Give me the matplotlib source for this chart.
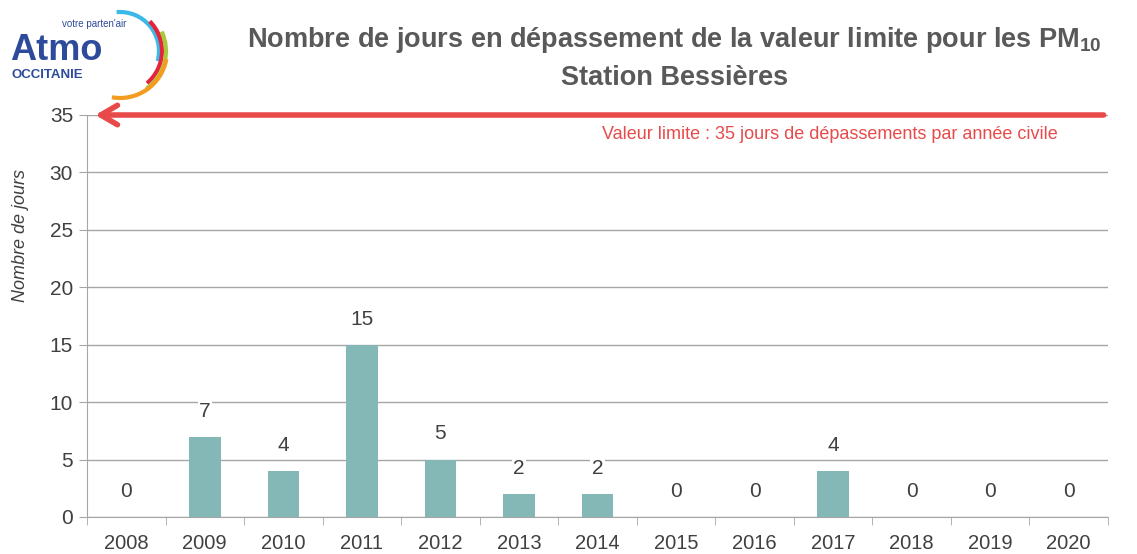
import matplotlib.pyplot as plt
from matplotlib.patches import Arc, FancyArrowPatch
import numpy as np

years = ['2008', '2009', '2010', '2011', '2012', '2013', '2014',
         '2015', '2016', '2017', '2018', '2019', '2020']
jours = [0, 7, 4, 15, 5, 2, 2, 0, 0, 4, 0, 0, 0]
valeur_limite = 35

plt.rcParams['font.family'] = ['Liberation Sans', 'DejaVu Sans']

grey = '#595959'
bar_color = '#84b8b7'
red = '#e84a4a'

fig = plt.figure(figsize=(11.37, 5.54), dpi=100)
ax = fig.add_axes([87 / 1137, 1 - 517 / 554, (1108 - 87) / 1137, (517 - 115) / 554])

x = np.arange(len(years))
ax.bar(x, jours, width=0.4, color=bar_color, zorder=3)
for xi, v in zip(x, jours):
    ax.text(xi, v + 1.4, str(v), ha='center', va='bottom', fontsize=15, color='#404040',
            zorder=5, bbox=dict(facecolor='white', edgecolor='none', pad=1))

ax.set_xlim(-0.5, len(years) - 0.5)
ax.set_ylim(0, 35)
ax.set_yticks(range(0, 36, 5))
ax.set_xticks(x)
ax.set_xticklabels(years)
ax.set_xticks(np.arange(-0.5, len(years), 1), minor=True)
ax.tick_params(axis='x', which='major', length=0, pad=12, labelsize=14.5, labelcolor='#404040')
ax.tick_params(axis='x', which='minor', length=6, color='#a6a6a6')
ax.tick_params(axis='y', length=6, color='#a6a6a6', labelsize=15, labelcolor='#404040', pad=4)
ax.grid(axis='y', color='#a6a6a6', linewidth=1, zorder=0)
for s in ['top', 'right']:
    ax.spines[s].set_visible(False)
for s in ['left', 'bottom']:
    ax.spines[s].set_color('#a6a6a6')
ax.set_ylabel('Nombre de jours', fontsize=13, style='italic', color='#404040')
ax.yaxis.set_label_coords(-0.057, 0.70)

# limit value arrow
arrow = FancyArrowPatch((len(years) - 0.52, valeur_limite), (-0.43, valeur_limite),
                        arrowstyle='->,head_length=12,head_width=7', color=red, lw=4,
                        mutation_scale=1, clip_on=False, zorder=6)
ax.add_patch(arrow)
ax.text(len(years) - 1.14, valeur_limite - 1.0, 'Valeur limite : 35 jours de dépassements par année civile',
        ha='right', va='top', fontsize=13, color=red)

# title
fig.text(0.593, 1 - 40 / 554, r'Nombre de jours en dépassement de la valeur limite pour les PM$_{\mathregular{10}}$',
         ha='center', va='center', fontsize=19.5, fontweight='bold', color=grey)
fig.text(0.593, 1 - 78 / 554, 'Station Bessières', ha='center', va='center',
         fontsize=19.5, fontweight='bold', color=grey)

# logo
blue = '#2e4a9a'
fig.text(10 / 1137, 1 - 50 / 554, 'Atmo', ha='left', va='center', fontsize=26,
         fontweight='bold', color=blue)
fig.text(12 / 1137, 1 - 75 / 554, 'OCCITANIE', ha='left', va='center', fontsize=9.5,
         fontweight='bold', color=blue)
fig.text(62 / 1137, 1 - 24 / 554, "votre parten'air", ha='left', va='center', fontsize=7,
         color=blue)
lax = fig.add_axes([0, 1 - 110 / 554, 240 / 1137, 110 / 554])
lax.set_xlim(0, 240)
lax.set_ylim(0, 110)
lax.axis('off')
cx, cy = 120, 110 - 51
for (r, t1, t2, c) in [(39, -15, 95, '#3bb9e8'), (42, -50, 45, '#e5243b'),
                       (46, -55, 25, '#a8c83a'), (47, -100, -10, '#f39c1f')]:
    lax.add_patch(Arc((cx, cy), 2 * r, 2 * r, theta1=t1, theta2=t2, color=c, lw=3))

fig.savefig('out.png', dpi=100)
